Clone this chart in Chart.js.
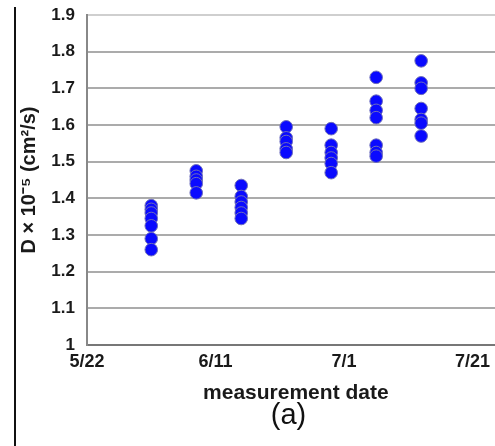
<!DOCTYPE html>
<html>
<head>
<meta charset="utf-8">
<script src="https://cdn.jsdelivr.net/npm/chart.js@4.4.0/dist/chart.umd.min.js"></script>
<style>
  html, body { margin: 0; padding: 0; background: #fff; overflow: hidden; }
  #wrap { position: relative; width: 495px; height: 446px; overflow: hidden; }
  #panelLine { position: absolute; left: 14px; top: 7px; width: 1.5px; height: 439px; background: #111; }
  #caption { position: absolute; left: 0; width: 577px; top: 398px; line-height: 34px;
             text-align: center; font: 29px "Liberation Sans", Arial, sans-serif; color: #111; }
  canvas { position: absolute; left: 0; top: 0; }
</style>
</head>
<body>
<div id="wrap">
  <canvas id="diffChart" width="512" height="410"></canvas>
  <div id="panelLine"></div>
  <div id="caption">(a)</div>
</div>
<script>
// x = days after 5/22
const tickDays = [0, 20, 40, 60];
const tickLabels = ['5/22', '6/11', '7/1', '7/21'];
const yTicks = [1, 1.1, 1.2, 1.3, 1.4, 1.5, 1.6, 1.7, 1.8, 1.9];

const measureDays = [10, 17, 24, 31, 38, 45, 52];   // 6/1 ... 7/13

// D x 10^-5 (cm2/s) per measurement date
const june01 = [1.38, 1.37, 1.36, 1.345, 1.325, 1.29, 1.26];
const june08 = [1.475, 1.46, 1.45, 1.44, 1.415];
const june15 = [1.435, 1.405, 1.39, 1.375, 1.36, 1.345];
const june22 = [1.595, 1.565, 1.555, 1.535, 1.525];
const june29 = [1.59, 1.545, 1.525, 1.51, 1.495, 1.47];
const july06 = [1.73, 1.665, 1.64, 1.62, 1.545, 1.525, 1.515];
const july13 = [1.775, 1.715, 1.70, 1.645, 1.615, 1.605, 1.57];

const groups = [june01, june08, june15, june22, june29, july06, july13];

const points = [];
groups.forEach((vals, i) => {
    vals.forEach(v => points.push({ x: measureDays[i], y: v }));
});

const tickFont = { family: '"Liberation Sans", Arial, sans-serif', weight: 'bold' };

const config = {
    type: 'scatter',
    data: {
        datasets: [{
            data: points,
            backgroundColor: '#0a0aff',
            borderColor: '#6f6fb8',
            borderWidth: 1,
            pointRadius: 6.3,
            pointHoverRadius: 6.3
        }]
    },
    options: {
        responsive: false,
        animation: false,
        devicePixelRatio: 1,
        layout: { padding: { top: 15, left: 0, right: 0, bottom: 0 } },
        plugins: { legend: { display: false }, tooltip: { enabled: false } },
        scales: {
            x: {
                type: 'linear',
                min: 0,
                max: 65,
                afterBuildTicks: (scale) => {
                    scale.ticks = tickDays.map(v => ({ value: v }));
                },
                afterFit: (scale) => { scale.height = 65; },
                grid: { display: false, drawTicks: false },
                border: { display: true, color: '#777', width: 2 },
                ticks: {
                    color: '#1a1a1a',
                    font: { ...tickFont, size: 18 },
                    padding: 6,
                    maxRotation: 0,
                    callback: (value) => tickLabels[tickDays.indexOf(value)]
                },
                title: {
                    display: true,
                    text: 'measurement date',
                    color: '#1a1a1a',
                    font: { ...tickFont, size: 21 },
                    padding: { top: 0, bottom: 4 }
                }
            },
            y: {
                min: 1,
                max: 1.9,
                afterBuildTicks: (scale) => {
                    scale.ticks = yTicks.map(v => ({ value: v }));
                },
                afterFit: (scale) => {
                    scale.width = 87;
                    scale.paddingTop = 0;
                    scale.paddingBottom = 0;
                },
                grid: {
                    drawTicks: false,
                    color: (ctx) => (ctx.tick && ctx.tick.value === 1.9 ? '#cfcfcf' : '#ababab'),
                    lineWidth: 2
                },
                border: { display: true, color: '#888', width: 2 },
                ticks: {
                    color: '#1a1a1a',
                    font: { ...tickFont, size: 17 },
                    padding: 12,
                    callback: (value) => String(parseFloat(value.toFixed(1)))
                },
                title: {
                    display: true,
                    text: 'D \u00d7 10\u207b\u2075 (cm\u00b2/s)',
                    color: '#1a1a1a',
                    font: { ...tickFont, size: 20 },
                    padding: { top: 17, bottom: 0 }
                }
            }
        }
    }
};

const ctx = document.getElementById('diffChart').getContext('2d');
window.diffChartInstance = new Chart(ctx, config);
</script>
</body>
</html>
